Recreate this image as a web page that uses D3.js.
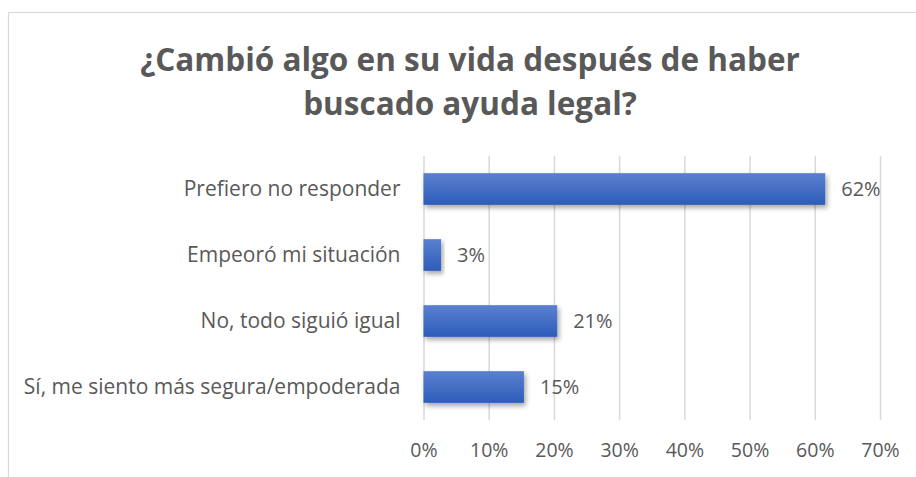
<!DOCTYPE html>
<html><head><meta charset="utf-8">
<script src="https://cdn.jsdelivr.net/npm/d3@7"></script>
<style>body{margin:0;background:#fff}svg{display:block}</style>
</head><body>
<svg id="c" width="916" height="477"></svg>
<script>
const titleLines = ["¿Cambió algo en su vida después de haber", "buscado ayuda legal?"];
const categories = ["Prefiero no responder", "Empeoró mi situación", "No, todo siguió igual", "Sí, me siento más segura/empoderada"];
const values = [0.616, 0.027, 0.205, 0.154];
const valueLabels = ["62%", "3%", "21%", "15%"];
const tickValues = [0, 0.1, 0.2, 0.3, 0.4, 0.5, 0.6, 0.7];

const svg = d3.select("#c");
const textColor = "#595959";
const font = "'Open Sans', sans-serif";

// chart border (only top & left visible)
svg.append("rect").attr("x", 8.5).attr("y", 12.5).attr("width", 1000).attr("height", 600)
  .attr("fill", "none").attr("stroke", "#d9d9d9").attr("stroke-width", 1.2);

const defs = svg.append("defs");
const grad = defs.append("linearGradient").attr("id", "barGrad").attr("x1", 0).attr("y1", 0).attr("x2", 0).attr("y2", 1);
grad.append("stop").attr("offset", "0%").attr("stop-color", "#5b80cf");
grad.append("stop").attr("offset", "100%").attr("stop-color", "#2d5cba");
const filt = defs.append("filter").attr("id", "shadow").attr("x", "-20%").attr("y", "-30%").attr("width", "140%").attr("height", "180%");
filt.append("feDropShadow").attr("dx", 2).attr("dy", 3).attr("stdDeviation", 2.5).attr("flood-color", "#000").attr("flood-opacity", 0.35);

// title
svg.append("text").attr("x", 470).attr("y", 71).attr("text-anchor", "middle")
  .attr("font-family", font).attr("font-weight", 700).attr("font-size", 31.5).attr("fill", textColor)
  .selectAll("tspan").data(titleLines).join("tspan")
  .attr("x", 470).attr("dy", (d, i) => i === 0 ? 0 : 44).text(d => d);

const x = d3.scaleLinear().domain([0, 0.7]).range([423.5, 880]);
const y = d3.scaleBand().domain(categories).range([156, 420]).paddingInner(0.52).paddingOuter(0.26);

// gridlines
const xAxis = d3.axisBottom(x).tickValues(tickValues).tickFormat(d3.format(".0%")).tickSize(-(420 - 156)).tickPadding(23);
const gx = svg.append("g").attr("transform", "translate(0,420)").call(xAxis);
gx.select(".domain").remove();
gx.selectAll(".tick line").attr("stroke", "#d9d9d9").attr("stroke-width", 1.5);
gx.selectAll(".tick text").attr("fill", textColor).attr("font-family", font).attr("font-size", 19.5);

// bars
svg.append("g").selectAll("rect").data(values).join("rect")
  .attr("x", x(0)).attr("y", (d, i) => y(categories[i]))
  .attr("width", d => x(d) - x(0)).attr("height", y.bandwidth())
  .attr("fill", "url(#barGrad)").attr("filter", "url(#shadow)");

// value labels
svg.append("g").selectAll("text").data(values).join("text")
  .attr("x", d => x(d) + 16).attr("y", (d, i) => y(categories[i]) + y.bandwidth() / 2)
  .attr("dy", "0.35em").attr("fill", textColor).attr("font-family", font).attr("font-size", 20)
  .text((d, i) => valueLabels[i]);

// category labels
const yAxis = d3.axisLeft(y).tickSize(0).tickPadding(23);
const gy = svg.append("g").attr("transform", `translate(${x(0)},0)`).call(yAxis);
gy.select(".domain").remove();
gy.selectAll(".tick text").attr("fill", textColor).attr("font-family", font).attr("font-size", 21);
</script>
</body></html>
